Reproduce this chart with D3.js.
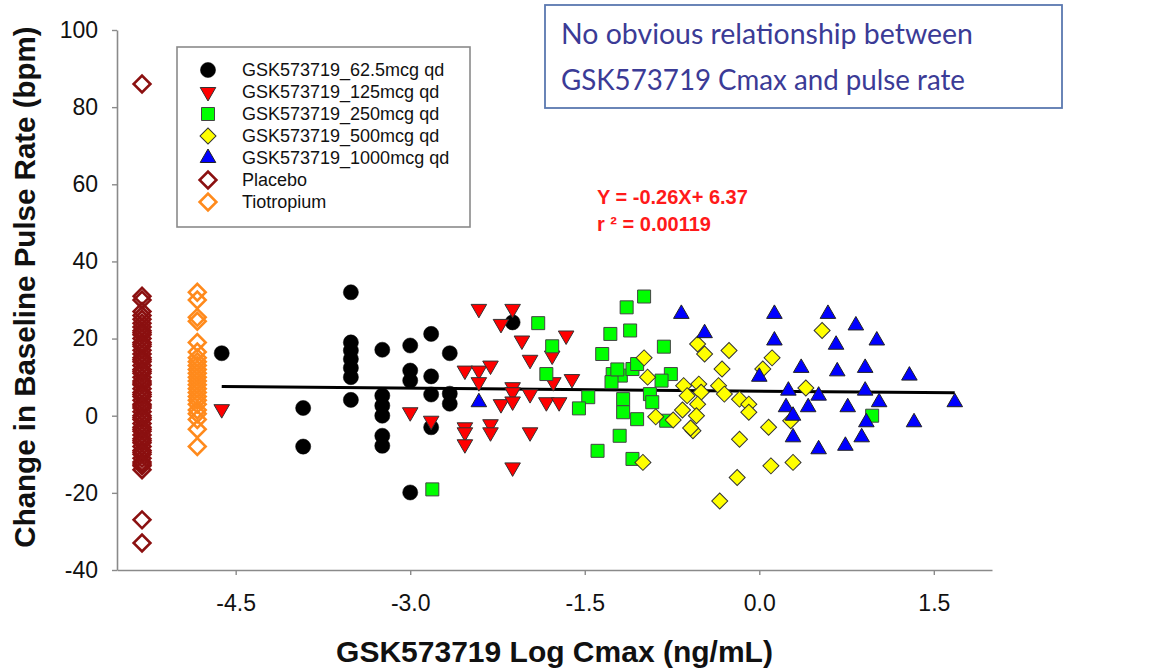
<!DOCTYPE html>
<html>
<head>
<meta charset="utf-8">
<script src="https://cdn.jsdelivr.net/npm/d3@7"></script>
<style>
    body { margin: 0; background: #fff; }
    svg { display: block; font-family: "Liberation Sans", Arial, sans-serif; }
</style>
</head>
<body>
<svg id="chart" width="1153" height="671"></svg>
<script>
// comparator groups sit at one fixed log Cmax each
const placeboX = -5.305;
const tiotropiumX = -4.83;

const placeboY = [86, 31, 30, 27, 26, 25, 24, 23, 22, 21.5, 21, 20, 19, 18.5, 18, 17, 16, 15,
    14.5, 14, 13, 12, 11.5, 11, 10, 9, 8.5, 8, 7, 6, 5.5, 5, 4, 3, 2.5, 2, 1, 0, -0.5, -1, -2,
    -3, -3.5, -4, -5, -6, -6.5, -7, -8, -9, -9.5, -10, -11, -12, -12.5, -13, -14, -27, -33];

const tiotropiumY = [32, 30, 25.5, 24.5, 19, 16.5, 15, 14, 13, 12, 11, 10, 9, 8, 7, 6, 5, 4,
    3, 1.5, 0.5, -1, -3.5, -8];

// [log Cmax, change in pulse rate]
const dose62 = [[-4.62, 16.2], [-3.92, 2.0], [-3.92, -8.0], [-3.51, 32], [-3.51, 19], [-3.51, 16.9],
    [-3.51, 14.7], [-3.51, 12.4], [-3.51, 10], [-3.51, 4.1], [-3.24, 17.1], [-3.24, 5.2],
    [-3.24, 2.6], [-3.24, 0], [-3.24, -5.2], [-3.24, -7.8], [-3.0, 18.2], [-3.0, 11.7],
    [-3.0, 9.1], [-3.0, -19.9], [-2.82, 21.2], [-2.82, 10.2], [-2.82, 5.5], [-2.82, -3],
    [-2.66, 16.2], [-2.66, 5.7], [-2.66, 3.1], [-2.12, 24.2]];

const dose125 = [[-4.62, 1.7], [-3.0, 0.9], [-2.82, -1.3], [-2.53, 11.7], [-2.53, -3], [-2.53, -4.3],
    [-2.53, -7.4], [-2.41, 27.7], [-2.41, 11.7], [-2.41, 8.7], [-2.31, 13], [-2.31, -2.2],
    [-2.31, -4.3], [-2.22, 23.8], [-2.22, 3.0], [-2.12, 27.7], [-2.12, 7.4], [-2.12, 6.1],
    [-2.12, 3.7], [-2.12, -13.4], [-2.04, 19.5], [-1.97, 14.5], [-1.97, 5.6], [-1.97, -4.3],
    [-1.83, 3.5], [-1.78, 15.6], [-1.77, 8.7], [-1.72, 3.5], [-1.66, 20.8], [-1.61, 9.5]];

const dose250 = [[-2.81, -19.1], [-1.90, 24], [-1.78, 18], [-1.83, 10.8], [-1.47, 4.8], [-1.55, 1.9],
    [-1.39, -9.1], [-0.99, 30.9], [-1.14, 28.1], [-1.28, 21.2], [-1.11, 22.1], [-1.35, 16],
    [-0.82, 17.9], [-1.26, 10.8], [-1.19, 10.4], [-1.09, 12.1], [-1.05, 13.4], [-0.76, 10.8],
    [-1.27, 8.7], [-0.84, 9.1], [-1.17, 4.3], [-1.17, 0.9], [-0.94, 5.6], [-0.92, 3.5],
    [-1.05, -0.9], [-1.20, -5.2], [-1.09, -11.2], [-0.80, -1.3], [0.97, 0], [-1.22, 12]];

const dose500 = [[-0.99, 15], [-0.96, 10], [-1.0, -12.1], [-0.89, -0.3], [-0.74, -1.1], [-0.65, 7.8],
    [-0.62, 5.2], [-0.52, 8.2], [-0.50, 6.1], [-0.53, 3.0], [-0.54, 0], [-0.57, -3.9],
    [-0.53, 18.6], [-0.47, 16], [-0.26, 16.9], [-0.32, 12.1], [-0.35, 7.8], [-0.30, 5.6],
    [-0.17, 4.3], [-0.09, 3.0], [-0.09, 0.9], [-0.17, -6.1], [0.08, -3.0], [0.11, 15],
    [0.03, 12.1], [0.10, -13], [0.29, -12.1], [-0.19, -16], [-0.34, -22.1], [0.54, 22.1],
    [0.40, 7.2], [0.27, -1.3], [-0.59, -3.2], [-0.66, 1.5]];

const dose1000 = [[-2.41, 3.5], [-0.67, 26.4], [-0.47, 21.4], [0.0, 10.1], [0.13, 26.4], [0.13, 19.5],
    [0.23, 2.2], [0.25, 6.5], [0.29, 0], [0.29, -5.6], [0.36, 12.4], [0.42, 2.2], [0.51, 5.2],
    [0.51, -8.7], [0.59, 26.4], [0.66, 18.4], [0.67, 11.5], [0.74, -7.8], [0.76, 2.2],
    [0.83, 23.4], [0.88, -5.6], [0.91, 12.4], [0.91, 6.5], [0.92, -1.7], [1.01, 19.5],
    [1.03, 3.5], [1.29, 10.4], [1.33, -1.7], [1.68, 3.5]];

const xTicks = [-4.5, -3.0, -1.5, 0.0, 1.5];
const xTickLabels = ["-4.5", "-3.0", "-1.5", "0.0", "1.5"];
const yTicks = [-40, -20, 0, 20, 40, 60, 80, 100];

const fitSlope = -0.26;
const fitIntercept = 6.37;

const legendLabels = ["GSK573719_62.5mcg qd", "GSK573719_125mcg qd", "GSK573719_250mcg qd",
    "GSK573719_500mcg qd", "GSK573719_1000mcg qd", "Placebo", "Tiotropium"];

const svg = d3.select("#chart");

const x = d3.scaleLinear().domain([-5.52, 2.0]).range([117, 992]);
const y = d3.scaleLinear().domain([-40, 100]).range([570, 30]);

// marker styles, one per legend entry
const styles = [
    {shape: "circle", fill: "#000", stroke: "#000", sw: 0.5},
    {shape: "down", fill: "#ff0000", stroke: "#333", sw: 1},
    {shape: "square", fill: "#00ff00", stroke: "#444", sw: 1},
    {shape: "diamond", fill: "#ffff00", stroke: "#333", sw: 1},
    {shape: "up", fill: "#0000ff", stroke: "#222", sw: 1},
    {shape: "hollow", fill: "none", stroke: "#8b1010", sw: 2.6},
    {shape: "hollow", fill: "none", stroke: "#ff8a1c", sw: 2.6}
];

function symbolPath(shape) {
    if (shape === "circle") return d3.symbol(d3.symbolCircle, 180)();
    if (shape === "up" || shape === "down") return d3.symbol(d3.symbolTriangle, 105)();
    if (shape === "square") return d3.symbol(d3.symbolSquare, 169)();
    if (shape === "diamond") return d3.symbol(d3.symbolSquare, 128)();
    return d3.symbol(d3.symbolSquare, 140)();
}

function rotation(shape) {
    if (shape === "down") return " rotate(180)";
    if (shape === "diamond" || shape === "hollow") return " rotate(45)";
    return "";
}

function drawPoints(data, style) {
    svg.append("g").selectAll("path")
        .data(data)
        .join("path")
        .attr("d", symbolPath(style.shape))
        .attr("transform", d => `translate(${x(d[0])},${y(d[1])})` + rotation(style.shape))
        .attr("fill", style.fill)
        .attr("stroke", style.stroke)
        .attr("stroke-width", style.sw);
}

// axes
const xAxis = svg.append("g")
    .attr("transform", `translate(0,${y(-40)})`)
    .call(d3.axisBottom(x).tickValues(xTicks).tickFormat((d, i) => xTickLabels[i])
        .tickSize(5).tickSizeOuter(0).tickPadding(20));

const yAxis = svg.append("g")
    .attr("transform", `translate(${x.range()[0]},0)`)
    .call(d3.axisLeft(y).tickValues(yTicks).tickFormat(d => String(d))
        .tickSize(5).tickSizeOuter(0).tickPadding(14));

[xAxis, yAxis].forEach(g => {
    g.select(".domain").attr("stroke", "#8a8a8a").attr("stroke-width", 1.6);
    g.selectAll(".tick line").attr("stroke", "#8a8a8a").attr("stroke-width", 1.4);
    g.selectAll(".tick text").attr("fill", "#111").style("font-size", "23px")
        .style("font-family", "'Liberation Sans', Arial, sans-serif");
});

svg.append("text")
    .attr("x", (x.range()[0] + x.range()[1]) / 2)
    .attr("y", 662)
    .attr("text-anchor", "middle")
    .style("font-size", "30px")
    .style("font-weight", "bold")
    .attr("fill", "#111")
    .text("GSK573719 Log Cmax (ng/mL)");

svg.append("text")
    .attr("transform", "translate(35,287) rotate(-90)")
    .attr("text-anchor", "middle")
    .style("font-size", "29.5px")
    .style("font-weight", "bold")
    .attr("fill", "#111")
    .text("Change in Baseline Pulse Rate (bpm)");

// comparators first, then fit line, then dose groups
drawPoints(placeboY.map(v => [placeboX, v]), styles[5]);
drawPoints(tiotropiumY.map(v => [tiotropiumX, v]), styles[6]);

const drugX = d3.extent([...dose62, ...dose125, ...dose250, ...dose500, ...dose1000], d => d[0]);
svg.append("line")
    .attr("x1", x(drugX[0])).attr("y1", y(fitSlope * drugX[0] + fitIntercept))
    .attr("x2", x(drugX[1])).attr("y2", y(fitSlope * drugX[1] + fitIntercept))
    .attr("stroke", "#000")
    .attr("stroke-width", 3);

[dose62, dose125, dose250, dose500, dose1000].forEach((data, i) => drawPoints(data, styles[i]));

// legend
const legend = svg.append("g");
legend.append("rect")
    .attr("x", 177).attr("y", 47).attr("width", 293).attr("height", 180)
    .attr("fill", "#fff").attr("stroke", "#8a8a8a").attr("stroke-width", 1.6);

legendLabels.forEach((label, i) => {
    const row = legend.append("g").attr("transform", `translate(0,${70 + i * 22})`);
    row.append("path")
        .attr("d", symbolPath(styles[i].shape))
        .attr("transform", "translate(208,0)" + rotation(styles[i].shape))
        .attr("fill", styles[i].fill)
        .attr("stroke", styles[i].stroke)
        .attr("stroke-width", styles[i].sw);
    row.append("text")
        .attr("x", 242).attr("dy", "0.35em")
        .style("font-size", "18px")
        .attr("fill", "#111")
        .text(label);
});

// regression equation
const eq = svg.append("g").attr("fill", "#ff1a1a").style("font-weight", "bold").style("font-size", "20px");
eq.append("text").attr("x", 597).attr("y", 204).text(`Y = ${fitSlope}X+ ${fitIntercept}`);
eq.append("text").attr("x", 597).attr("y", 231).text("r ² = 0.00119");

// callout box
svg.append("rect")
    .attr("x", 545).attr("y", 5).attr("width", 517).attr("height", 103)
    .attr("fill", "#fff").attr("stroke", "#5a78b0").attr("stroke-width", 1.8);

const note = svg.append("g").attr("fill", "#3b3b96").style("font-family", "Lato, 'Open Sans', sans-serif")
    .style("font-size", "28px");
note.append("text").attr("x", 561).attr("y", 44)
    .attr("textLength", 412).attr("lengthAdjust", "spacingAndGlyphs")
    .text("No obvious relationship between");
note.append("text").attr("x", 561).attr("y", 90)
    .attr("textLength", 404).attr("lengthAdjust", "spacingAndGlyphs")
    .text("GSK573719 Cmax and pulse rate");
</script>
</body>
</html>
